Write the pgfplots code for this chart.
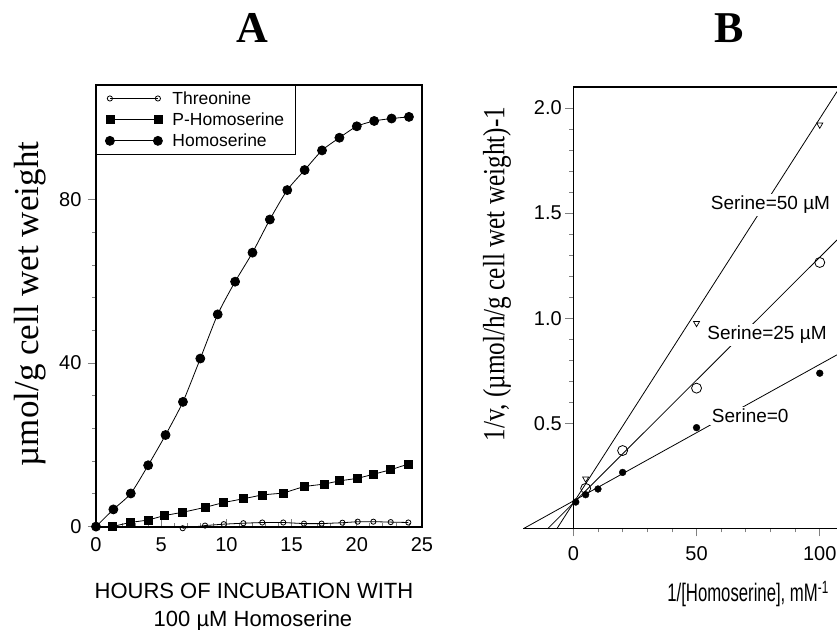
\documentclass[border=0pt]{standalone}
\usepackage{fontspec}
\setmainfont{Liberation Serif}
\setsansfont{Liberation Sans}
\usepackage{pgfplots}
\pgfplotsset{compat=1.18}

\newcommand{\tickfont}{\sffamily\fontsize{20}{20}\selectfont}

\begin{document}
\begin{tikzpicture}[x=1pt,y=1pt]
\path[use as bounding box] (0,0) rectangle (837,629);

% ---------------- panel A
\begin{axis}[
    at={(96pt,102pt)}, anchor=south west,
    scale only axis, width=326pt, height=442pt,
    xmin=0, xmax=25, ymin=-0.1, ymax=108,
    xtick={0,5,...,25}, ytick={0,40,80},
    minor x tick num=4, minor y tick num=4,
    xtick pos=bottom, ytick pos=left,
    x tick style={line width=0.8pt}, y tick style={line width=0.8pt},
    xtick align=inside, ytick align=outside,
    major tick length=8pt, minor tick length=4pt,
    tick label style={font=\tickfont},
    xticklabel style={yshift=-7pt},
    yticklabel style={xshift=-3pt},
    /pgf/number format/assume math mode=true,
    axis line style={line width=1.1pt},
    clip=false,
    legend style={at={(0,1)}, anchor=north west, draw=black, line width=0.8pt,
        font=\sffamily\fontsize{17.5}{17.5}\selectfont, inner xsep=9pt, inner ysep=4pt,
        row sep=3pt, column sep=8pt, cells={anchor=west}},
    legend image code/.code={\draw[#1] plot coordinates {(0pt,0pt) (48pt,0pt)};},
]
% Threonine
\addplot[black, line width=0.8pt, mark=o, mark size=2.6pt, mark options={fill=white, line width=0.8pt}] coordinates {
    (6.65,-0.4) (8.36,0.25) (9.8,0.6) (11.3,0.83) (12.75,1.0) (14.36,1.0) (15.95,0.73)
    (17.3,0.73) (18.9,0.95) (20.07,1.2) (21.27,1.2) (22.6,1.1) (23.95,1.0)
};
\addlegendentry{Threonine}
% P-Homoserine
\addplot[black, line width=0.8pt, mark=square*, mark size=4pt] coordinates {
    (1.25,0) (2.6,1.0) (4.0,1.6) (5.24,2.7) (6.65,3.5) (8.36,4.7) (9.8,5.9)
    (11.3,6.8) (12.75,7.75) (14.36,8.2) (15.95,9.8) (17.5,10.4) (18.7,11.2)
    (20.07,11.8) (21.27,12.8) (22.6,13.9) (23.95,15.3)
};
\addlegendentry{P-Homoserine}
% Homoserine
\addplot[black, line width=0.8pt, smooth, tension=0.4, mark=*, mark size=4.5pt] coordinates {
    (0,0) (1.333,4.2) (2.667,8.1) (4,15.0) (5.333,22.4) (6.667,30.5) (8,41.1)
    (9.333,51.9) (10.667,59.9) (12,67.0) (13.333,75.1) (14.667,82.3) (16,87.2)
    (17.333,92.0) (18.667,95.1) (20,97.9) (21.333,99.2) (22.667,99.8) (24,100.2)
};
\addlegendentry{Homoserine}
\end{axis}

% ---------------- panel B
\begin{axis}[
    at={(523.3pt,100.7pt)}, anchor=south west,
    scale only axis, width=313.7pt, height=441.3pt,
    xmin=-20.3, xmax=107, ymin=0, ymax=2.1,
    axis x line*=bottom, axis y line*=middle,
    xtick={0,50,100}, ytick={0.5,1.0,1.5,2.0},
    minor x tick num=4, minor y tick num=4,
    yticklabel style={/pgf/number format/.cd, fixed, fixed zerofill, precision=1},
    xticklabel style={yshift=-7pt},
    xtick align=outside, ytick align=outside,
    major tick length=8pt, minor tick length=4pt,
    x tick style={line width=0.8pt}, y tick style={line width=0.8pt},
    tick label style={font=\tickfont},
    /pgf/number format/assume math mode=true,
    axis line style={line width=1.1pt},
    clip=false,
]
\draw[line width=1.1pt] (axis cs:0,2.1) -- (axis cs:107,2.1);
% fitted lines
\addplot[black, line width=0.8pt] coordinates {(-20,0) (107,0.8255)};
\addplot[black, line width=0.8pt] coordinates {(-10.26,0) (107,1.372)};
\addplot[black, line width=0.8pt] coordinates {(-6.56,0) (107,2.078)};
\node[fill=white, inner sep=2pt, font=\sffamily\fontsize{19}{19}\selectfont] at (axis cs:71.8,0.535) {Serine=0};
\node[fill=white, inner sep=2pt, font=\sffamily\fontsize{19}{19}\selectfont] at (axis cs:78.6,0.92) {Serine=25 µM};
\node[fill=white, inner sep=2pt, font=\sffamily\fontsize{19}{19}\selectfont] at (axis cs:80,1.54) {Serine=50 µM};
% data points
\addplot[only marks, mark=*, mark size=3.4pt] coordinates {
    (1,0.125) (5,0.16) (10,0.187) (20,0.266) (50,0.479) (100,0.738)
};
\addplot[only marks, mark=o, mark size=5pt, mark options={fill=white, line width=0.8pt}] coordinates {
    (5,0.19) (20,0.37) (50,0.667) (100,1.265)
};
\addplot[only marks, mark=triangle, mark size=3.5pt, mark options={rotate=180, fill=white, line width=0.7pt}] coordinates {
    (5,0.236) (50,0.976) (100,1.92)
};
\end{axis}

% ---------------- titles and axis labels
\node[font=\bfseries\fontsize{44}{44}\selectfont, anchor=base] at (252,586) {A};
\node[font=\bfseries\fontsize{44}{44}\selectfont, anchor=base] at (729,586) {B};
\node[font=\fontsize{35}{35}\selectfont, rotate=90] at (30,325) {µmol/g cell wet weight};
\node[font=\fontsize{28}{28}\selectfont, rotate=90] at (497,355) {\scalebox{0.9}[1.1]{1/v, (µmol/h/g cell wet weight)-1}};
\node[font=\sffamily\fontsize{22}{22}\selectfont, anchor=base] at (254,31) {HOURS OF INCUBATION WITH};
\node[font=\sffamily\fontsize{22}{22}\selectfont, anchor=base] at (253,3) {100 µM Homoserine};
\node[font=\sffamily\fontsize{22}{22}\selectfont, anchor=base] at (748,27.3) {\scalebox{0.76}[1.15]{1/[Homoserine], mM\textsuperscript{-1}}};
\end{tikzpicture}
\end{document}
